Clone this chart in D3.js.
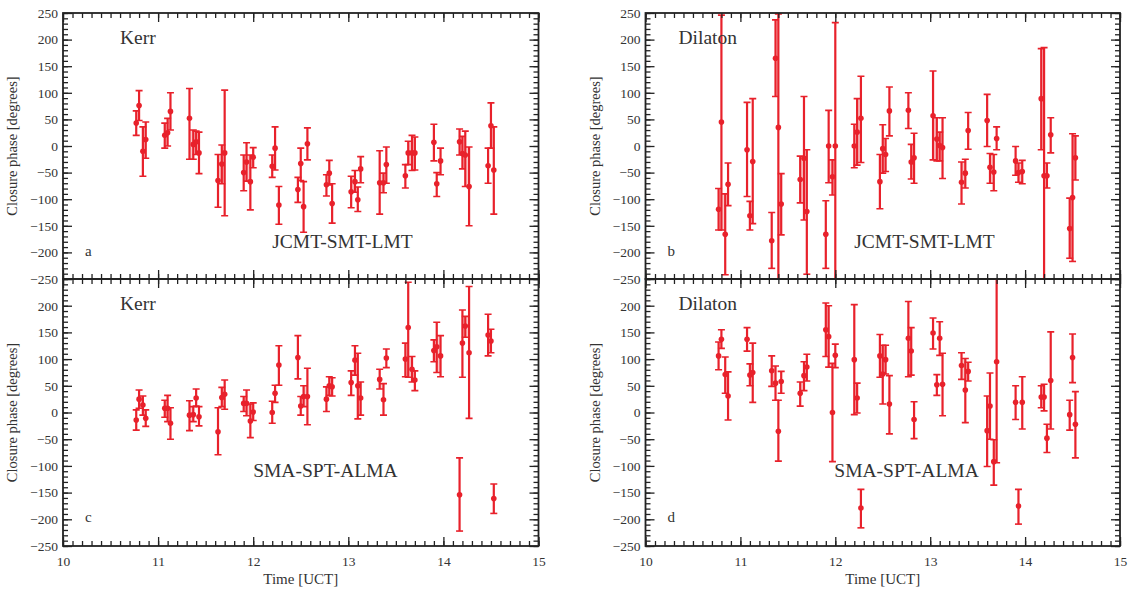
<!DOCTYPE html>
<html>
<head>
<meta charset="utf-8">
<script src="https://cdn.jsdelivr.net/npm/d3@7"></script>
<style>
  body { margin: 0; background: #fff; }
  svg text { font-family: "Liberation Serif", "DejaVu Serif", serif !important; fill: #333; }
</style>
</head>
<body>
<div id="chart"></div>
<script>
// observation times [UCT], shared by all four panels
const times = [10.77, 10.80, 10.84, 10.87, 11.07, 11.10, 11.13, 11.33, 11.37, 11.40, 11.43,
  11.63, 11.67, 11.70, 11.90, 11.93, 11.97, 12.00, 12.20, 12.23, 12.27,
  12.47, 12.50, 12.53, 12.57, 12.77, 12.80, 12.83, 13.03, 13.07, 13.10, 13.13,
  13.33, 13.37, 13.40, 13.60, 13.63, 13.67, 13.70, 13.90, 13.93, 13.97,
  14.17, 14.20, 14.23, 14.27, 14.47, 14.50, 14.53];

// a: Kerr, JCMT-SMT-LMT
const kerrJcmt = [43, 76, -10, 12, 20, 25, 65, 52, 3, 8, -13, -65, -34, -13, -50, -30, -67, -21, -38, -4, -111,
  -82, -33, -114, 4, -73, -51, -108, -86, -67, -101, -43, -69, -69, -35, -56, -13, -13, -13, 7, -71, -28,
  8, -14, -17, -76, -37, 38, -45];
const kerrJcmtHi = [66, 104, 36, 45, 43, 52, 100, 108, 30, 28, 26, -16, 2, 105, -17, 6, -17, -3, -17, 36, -76,
  -59, -4, -67, 34, -54, -27, -71, -57, -46, -77, -20, -9, -51, -2, -35, 9, 20, 17, 41, -50, -4,
  32, 18, 28, -2, -4, 81, 36];
const kerrJcmtLo = [20, 48, -57, -23, -4, 0, 30, -25, -25, -16, -52, -115, -71, -131, -84, -66, -120, -41, -59, -45, -147,
  -106, -65, -162, -26, -94, -73, -145, -116, -87, -123, -69, -128, -88, -70, -79, -35, -46, -45, -28, -95, -54,
  -17, -43, -76, -150, -70, -4, -128];

// b: Dilaton, JCMT-SMT-LMT
const dilJcmt = [-119, 45, -166, -72, -7, -131, -29, -178, 165, 35, -109, -63, -23, -123, -166, 0, -58, 0, 0, 26, 52,
  -67, -5, -16, 66, 67, -30, -22, 57, 13, 1, -3, -68, -51, 29, 48, -40, -49, 14, -28, -50, -48,
  89, -56, -56, 21, -155, -97, -22];
const dilJcmtHi = [-80, 246, -90, -32, 82, -104, 89, -125, 237, 248, -52, -19, 93, -7, -103, 67, -26, 232, 41, 89, 131,
  -16, 40, 14, 111, 100, 3, 24, 141, 53, 26, 53, -30, -25, 63, 97, -14, -16, 36, -1, -32, -27,
  183, 185, -32, 53, -98, 23, 19];
const dilJcmtLo = [-158, -158, -242, -112, -95, -158, -146, -230, 93, -300, -167, -107, -139, -241, -230, -69, -92, -300, -41, -36, -31,
  -118, -51, -48, 19, 33, -62, -70, -26, -28, -28, -61, -109, -79, -6, -1, -70, -84, -7, -55, -68, -71,
  -7, -300, -79, -13, -211, -217, -64];

// c: Kerr, SMA-SPT-ALMA
const kerrSma = [-14, 25, 14, -11, 8, 8, -20, -5, -4, 27, -8, -36, 28, 34, 17, 17, -16, 1, 0, 36, 89,
  103, 12, 30, 30, 25, 50, 48, 56, 98, 50, 27, 62, 24, 102, 100, 159, 81, 61, 116, 123, 106,
  -154, 130, 162, 112, 145, 134, -161];
const kerrSmaHi = [5, 42, 31, 5, 23, 32, 9, 22, 11, 44, 11, 9, 47, 61, 30, 42, 16, 18, 21, 51, 125,
  144, 30, 50, 83, 48, 67, 65, 78, 125, 111, 57, 81, 54, 119, 130, 244, 105, 78, 136, 169, 144,
  -85, 192, 180, 236, 184, 156, -134];
const kerrSmaLo = [-33, 8, -5, -26, -9, -17, -50, -34, -17, 12, -25, -79, 11, 6, 2, -6, -47, -15, -20, 19, 51,
  63, -5, 11, -23, 2, 32, 31, 32, 70, -12, -5, 44, -5, 84, 67, 66, 57, 41, 95, 75, 67,
  -222, 66, 141, -11, 106, 112, -189];

// d: Dilaton, SMA-SPT-ALMA
const dilSma = [106, 137, 71, 31, 137, 70, 75, 78, 55, -35, 58, 36, 69, 85, 155, 142, 0, 107, 99, 27, -179,
  106, 72, 99, 16, 139, 115, -13, 149, 52, 139, 53, 88, 42, 77, -34, 12, -92, 95, 19, -175, 19,
  29, 29, -48, 60, -4, 103, -22];
const dilSmaHi = [132, 155, 104, 76, 159, 91, 130, 106, 87, 23, 77, 57, 95, 109, 205, 200, 92, 128, 202, 55, -144,
  146, 126, 126, 69, 208, 159, 20, 177, 71, 170, 111, 112, 101, 94, 31, 74, -51, 260, 50, -144, 67,
  50, 53, -22, 151, 23, 147, 39];
const dilSmaLo = [80, 120, 36, -14, 115, 50, 19, 49, 23, -91, 36, 12, 41, 59, 105, 85, -92, 84, -4, -1, -216,
  66, 16, 72, -40, 67, 70, -49, 119, 32, 107, -6, 62, -19, 59, -101, -50, -136, -94, -13, -209, -31,
  9, 3, -75, -31, -33, 56, -85];

const xTicks = [10, 11, 12, 13, 14, 15];
const yTicksTop = [250, 200, 150, 100, 50, 0, -50, -100, -150, -200, -250];
const yTicksBottom = [200, 150, 100, 50, 0, -50, -100, -150, -200, -250];

const red = '#e8212b';
const serif = '"Liberation Serif", "DejaVu Serif", serif';
const svg = d3.select('#chart').append('svg')
  .attr('width', 1130).attr('height', 592);

const cols = [{x0: 63, x1: 538.5}, {x0: 645.5, x1: 1120}];
const rows = [{y0: 13, y1: 279}, {y0: 279, y1: 546}];

const panels = [
  {col: 0, row: 0, v: kerrJcmt, hi: kerrJcmtHi, lo: kerrJcmtLo, model: 'Kerr', base: 'JCMT-SMT-LMT', tag: 'a'},
  {col: 1, row: 0, v: dilJcmt, hi: dilJcmtHi, lo: dilJcmtLo, model: 'Dilaton', base: 'JCMT-SMT-LMT', tag: 'b'},
  {col: 0, row: 1, v: kerrSma, hi: kerrSmaHi, lo: kerrSmaLo, model: 'Kerr', base: 'SMA-SPT-ALMA', tag: 'c'},
  {col: 1, row: 1, v: dilSma, hi: dilSmaHi, lo: dilSmaLo, model: 'Dilaton', base: 'SMA-SPT-ALMA', tag: 'd'}
];

panels.forEach((p, k) => {
  const c = cols[p.col], r = rows[p.row];
  const x = d3.scaleLinear().domain([10, 15]).range([c.x0, c.x1]);
  const y = d3.scaleLinear().domain([-250, 250]).range([r.y1, r.y0]);
  const g = svg.append('g');

  const clipId = 'clip' + k;
  g.append('clipPath').attr('id', clipId)
    .append('rect')
    .attr('x', c.x0).attr('y', r.y0)
    .attr('width', c.x1 - c.x0).attr('height', r.y1 - r.y0);

  const data = times.map((t, i) => ({t, v: p.v[i], hi: p.hi[i], lo: p.lo[i]}));
  const marks = g.append('g').attr('clip-path', `url(#${clipId})`);

  // pale shading where neighbouring error bars of one scan overlap
  const shade = [];
  for (let i = 0; i < data.length - 1; i++) {
    const a = data[i], b = data[i + 1];
    if (b.t - a.t > 0.05) continue;
    const top = Math.min(a.hi, b.hi), bot = Math.max(a.lo, b.lo);
    if (top > bot) shade.push({t0: a.t, t1: b.t, top, bot});
  }
  marks.selectAll('rect.shade').data(shade).join('rect')
    .attr('class', 'shade')
    .attr('x', d => x(d.t0)).attr('width', d => x(d.t1) - x(d.t0))
    .attr('y', d => y(d.top)).attr('height', d => y(d.bot) - y(d.top))
    .attr('fill', '#f6b3b6').attr('opacity', 0.7);

  marks.selectAll('line.bar').data(data).join('line')
    .attr('class', 'bar')
    .attr('x1', d => x(d.t)).attr('x2', d => x(d.t))
    .attr('y1', d => y(d.hi)).attr('y2', d => y(d.lo))
    .attr('stroke', red).attr('stroke-width', 2.2);
  ['hi', 'lo'].forEach(key => {
    marks.selectAll('line.cap-' + key).data(data).join('line')
      .attr('class', 'cap-' + key)
      .attr('x1', d => x(d.t) - 3.5).attr('x2', d => x(d.t) + 3.5)
      .attr('y1', d => y(d[key])).attr('y2', d => y(d[key]))
      .attr('stroke', red).attr('stroke-width', 1.6);
  });
  marks.selectAll('circle').data(data).join('circle')
    .attr('cx', d => x(d.t)).attr('cy', d => y(d.v))
    .attr('r', 2.8).attr('fill', red);

  // ticks inside on all four sides
  const inside = (axis, pos, transform, values, size) => g.append('g')
    .attr('transform', transform)
    .call(axis(pos).tickValues(values).tickSize(size).tickFormat(''))
    .call(s => s.select('.domain').remove());
  const minorX = d3.range(100, 151).map(d => d / 10);
  const minorY = d3.range(-25, 26).map(d => d * 10);
  inside(d3.axisBottom, x, `translate(0,${r.y1})`, minorX, -5);
  inside(d3.axisBottom, x, `translate(0,${r.y1})`, xTicks, -9);
  inside(d3.axisTop, x, `translate(0,${r.y0})`, minorX, -5);
  inside(d3.axisTop, x, `translate(0,${r.y0})`, xTicks, -9);
  inside(d3.axisLeft, y, `translate(${c.x0},0)`, minorY, -5);
  inside(d3.axisLeft, y, `translate(${c.x0},0)`, yTicksTop, -9);
  inside(d3.axisRight, y, `translate(${c.x1},0)`, minorY, -5);
  inside(d3.axisRight, y, `translate(${c.x1},0)`, yTicksTop, -9);
  g.selectAll('.tick line').attr('stroke', '#222').attr('stroke-width', 1.3);

  g.append('rect')
    .attr('x', c.x0).attr('y', r.y0)
    .attr('width', c.x1 - c.x0).attr('height', r.y1 - r.y0)
    .attr('fill', 'none').attr('stroke', '#222').attr('stroke-width', 1.8);

  // y tick labels
  const yAxis = d3.axisLeft(y)
    .tickValues(p.row === 0 ? yTicksTop : yTicksBottom)
    .tickSize(0).tickPadding(5)
    .tickFormat(d => d < 0 ? '\u2212' + Math.abs(d) : d);
  g.append('g').attr('transform', `translate(${c.x0},0)`)
    .call(yAxis)
    .attr('font-family', serif).attr('font-size', 13.5)
    .call(s => s.select('.domain').remove())
    .selectAll('text').attr('fill', '#444');

  if (p.row === 1) {
    g.append('g').attr('transform', `translate(0,${r.y1})`)
      .call(d3.axisBottom(x).tickValues(xTicks).tickSize(0).tickPadding(10).tickFormat(d3.format('d')))
      .attr('font-family', serif).attr('font-size', 13.5)
      .call(s => s.select('.domain').remove())
      .selectAll('text').attr('fill', '#444');
    g.append('text')
      .attr('x', (c.x0 + c.x1) / 2).attr('y', 584)
      .attr('text-anchor', 'middle').style('font-size', '15px')
      .text('Time [UCT]');
  }

  g.append('text')
    .attr('transform', `translate(${c.x0 - 46},${(r.y0 + r.y1) / 2}) rotate(-90)`)
    .attr('text-anchor', 'middle').style('font-size', '14.5px')
    .text('Closure phase [degrees]');

  g.append('text')
    .attr('x', c.x0 + (p.col === 0 ? 57 : 33)).attr('y', r.y0 + 31)
    .style('font-size', '19.5px').text(p.model);
  g.append('text')
    .attr('x', p.base === 'JCMT-SMT-LMT' ? x(12.2) : x(12.0) + (p.col === 0 ? 0 : -1)).attr('y', r.y0 + (p.row === 0 ? 235 : 198))
    .style('font-size', '19.5px').text(p.base);
  g.append('text')
    .attr('x', c.x0 + 22).attr('y', r.y0 + 243)
    .style('font-size', '15px').text(p.tag);
});
</script>
</body>
</html>
